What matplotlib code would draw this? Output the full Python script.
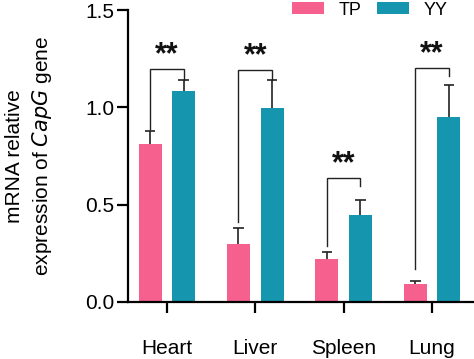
import matplotlib
matplotlib.use("Agg")
import matplotlib.pyplot as plt
import numpy as np

plt.rcParams['font.family'] = ['Liberation Sans', 'DejaVu Sans']

categories = ["Heart", "Liver", "Spleen", "Lung"]
tp_mean = [0.81, 0.30, 0.22, 0.09]
tp_err = [0.07, 0.08, 0.035, 0.02]
yy_mean = [1.085, 0.995, 0.448, 0.948]
yy_err = [0.055, 0.145, 0.076, 0.165]
bracket_top = [1.195, 1.19, 0.635, 1.20]
bracket_left = [0.89, 0.41, 0.285, 0.17]
bracket_right = [1.14, 1.14, 0.595, 1.16]
sig_labels = ["**", "**", "**", "**"]
yticks = [0.0, 0.5, 1.0, 1.5]

pink = "#F6608F"
teal = "#1596AE"
dark = "#222222"

fig = plt.figure(figsize=(4.74, 3.59), dpi=100)
ax = fig.add_axes([0.270, 0.159, 0.730, 0.813])

x = np.arange(len(categories))
w = 0.26
off = 0.19
cap = 0.06
ax.bar(x - off, tp_mean, w, color=pink, label="TP")
ax.bar(x + off, yy_mean, w, color=teal, label="YY")
for xs, m, e in [(x - off, tp_mean, tp_err), (x + off, yy_mean, yy_err)]:
    tops = np.array(m) + np.array(e)
    ax.vlines(xs, m, tops, color=dark, lw=1.2)
    ax.hlines(tops, xs - cap, xs + cap, color=dark, lw=1.2)

for i in range(len(categories)):
    xl, xr = x[i] - off, x[i] + off
    ax.plot([xl, xl, xr, xr], [bracket_left[i], bracket_top[i], bracket_top[i], bracket_right[i]],
            color=dark, lw=1.0, solid_joinstyle="miter")
    ax.text(x[i], bracket_top[i] + 0.03, sig_labels[i], ha="center", va="baseline",
            fontsize=22, fontweight="bold", color="#111111")

ax.set_xlim(-0.44, 3.475)
ax.set_ylim(0, 1.5)
ax.set_yticks(yticks)
ax.set_yticklabels([f"{t:.1f}" for t in yticks])
ax.set_xticks(x)
ax.set_xticklabels(categories)
for s in ["top", "right"]:
    ax.spines[s].set_visible(False)
for s in ["left", "bottom"]:
    ax.spines[s].set_linewidth(1.6)
ax.tick_params(axis="both", width=1.6, length=8, labelsize=15, color="black")
ax.tick_params(axis="x", pad=19)
ax.tick_params(axis="y", pad=2)
ax.set_ylabel("mRNA relative\nexpression of $\\it{CapG}$ gene", fontsize=15, linespacing=1.3)
ax.yaxis.set_label_coords(-0.215, 0.5)

fig.legend(loc="center", bbox_to_anchor=(0.78, 0.972), ncol=2, frameon=False,
           fontsize=13, handlelength=1.75, handleheight=0.66, handletextpad=0.8,
           columnspacing=0.9, borderpad=0)

fig.savefig("out.png", dpi=100)
